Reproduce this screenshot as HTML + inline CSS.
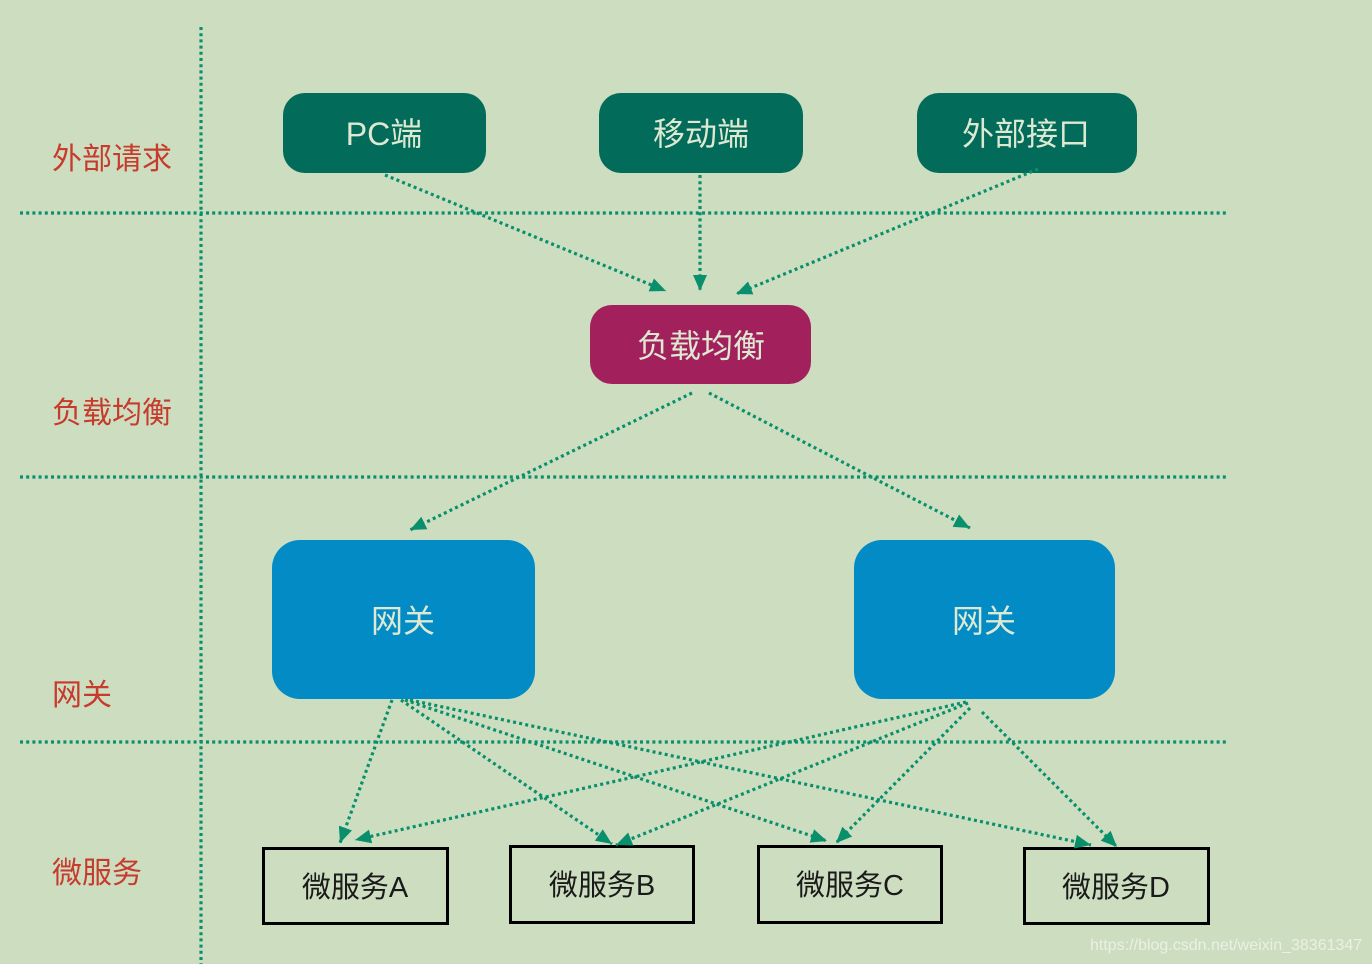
<!DOCTYPE html>
<html><head><meta charset="utf-8"><style>
html,body{margin:0;padding:0;background:#cddec0;}
svg{display:block;}
text{font-family:"Liberation Sans","Noto Sans CJK SC",sans-serif;}
</style></head><body>
<svg width="1372" height="964" viewBox="0 0 1372 964" xmlns="http://www.w3.org/2000/svg">
<defs>
<marker id="ah" viewBox="0 0 16 14" refX="16" refY="7" markerWidth="16" markerHeight="14" markerUnits="userSpaceOnUse" orient="auto">
<path d="M0,0 L16,7 L0,14 z" fill="#0a8f6d"/>
</marker>
</defs>
<rect width="1372" height="964" fill="#cddec0"/>
<!-- grid lines -->
<g stroke="#0a8f6d" stroke-width="3.2" stroke-dasharray="3 3.2" fill="none">
<line x1="201" y1="27" x2="201" y2="964"/>
<line x1="20" y1="213" x2="1226" y2="213"/>
<line x1="20" y1="477" x2="1226" y2="477"/>
<line x1="20" y1="742" x2="1226" y2="742"/>
</g>
<!-- side labels -->
<g fill="#c63b2c" font-size="30">
<text x="52" y="169">外部请求</text>
<text x="52" y="423">负载均衡</text>
<text x="52" y="705">网关</text>
<text x="52" y="883">微服务</text>
</g>
<!-- top nodes -->
<rect x="283" y="93" width="203" height="80" rx="22" fill="#026b59"/>
<rect x="599" y="93" width="204" height="80" rx="22" fill="#026b59"/>
<rect x="917" y="93" width="220" height="80" rx="22" fill="#026b59"/>
<rect x="590" y="305" width="221" height="79" rx="22" fill="#a2215c"/>
<rect x="272" y="540" width="263" height="159" rx="28" fill="#028bc4"/>
<rect x="854" y="540" width="261" height="159" rx="28" fill="#028bc4"/>
<g fill="#dde9d2" font-size="32" text-anchor="middle">
<text x="384" y="145">PC端</text>
<text x="701" y="145">移动端</text>
<text x="1026" y="145">外部接口</text>
<text x="701" y="357">负载均衡</text>
<text x="403" y="632">网关</text>
<text x="984" y="632">网关</text>
</g>
<!-- microservices -->
<g fill="none" stroke="#000" stroke-width="3">
<rect x="263.5" y="848.5" width="184" height="75"/>
<rect x="510.5" y="846.5" width="183" height="76"/>
<rect x="758.5" y="846.5" width="183" height="76"/>
<rect x="1024.5" y="848.5" width="184" height="75"/>
</g>
<g fill="#1a1a1a" font-size="29" text-anchor="middle">
<text x="355" y="897">微服务A</text>
<text x="602" y="895">微服务B</text>
<text x="850" y="895">微服务C</text>
<text x="1116" y="897">微服务D</text>
</g>
<!-- connectors -->
<g stroke="#0a8f6d" stroke-width="3.2" stroke-dasharray="3 3.2" fill="none" marker-end="url(#ah)">
<line x1="385" y1="175" x2="666" y2="291"/>
<line x1="700" y1="175" x2="700" y2="291"/>
<line x1="1038" y1="169" x2="736" y2="294"/>
<line x1="692" y1="393" x2="410" y2="530"/>
<line x1="709" y1="393" x2="970" y2="528"/>
<line x1="392" y1="700" x2="340" y2="843"/>
<line x1="401" y1="700" x2="612" y2="844"/>
<line x1="405" y1="700" x2="827" y2="841"/>
<line x1="410" y1="700" x2="1091" y2="845"/>
<line x1="966" y1="702" x2="355" y2="840"/>
<line x1="968" y1="703" x2="616" y2="845"/>
<line x1="970" y1="708" x2="836" y2="843"/>
<line x1="982" y1="712" x2="1117" y2="847"/>
</g>
<text x="1090" y="950" font-size="16" fill="#eef3ea" opacity="0.9">https://blog.csdn.net/weixin_38361347</text>
</svg>
</body></html>
